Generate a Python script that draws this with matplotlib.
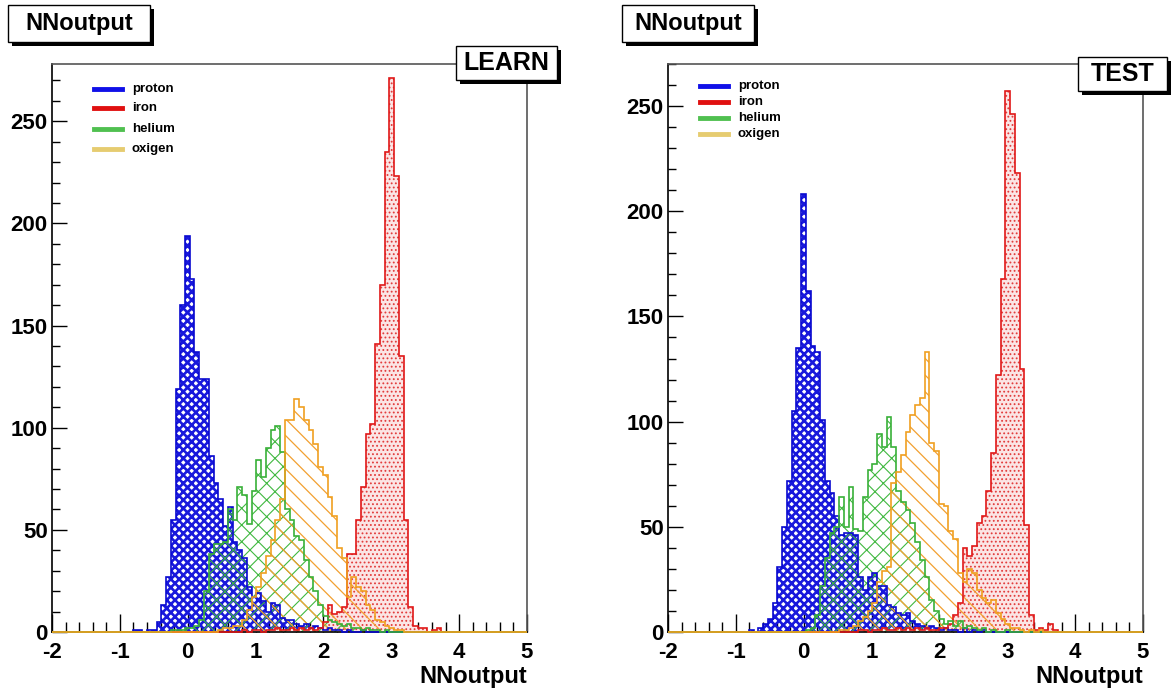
import numpy as np
import matplotlib.pyplot as plt
from matplotlib.patches import Rectangle
from matplotlib.lines import Line2D
from matplotlib.ticker import MultipleLocator

plt.rcParams['font.family'] = ['Liberation Sans', 'DejaVu Sans']
plt.rcParams['font.weight'] = 'bold'
plt.rcParams['axes.unicode_minus'] = False

# histogram binning: 100 bins from -2 to 5
x_lo, x_hi, n_bins = -2.0, 5.0, 100
edges = np.linspace(x_lo, x_hi, n_bins + 1)

labels = ['proton', 'iron', 'helium', 'oxigen']

# LEARN sample: (first bin index, counts)
learn_proton_first = 17
learn_proton = [1, 1, 0, 1, 1, 5, 13, 27, 55, 119, 160, 194, 173, 137, 124, 124, 86, 73, 65, 52,
                61, 44, 40, 36, 22, 17, 19, 15, 10, 14, 13, 7, 6, 6, 4, 3, 4, 2, 3, 2,
                1, 2, 1, 1, 0, 1, 0, 0, 1]
learn_iron_first = 40
learn_iron = [1, 0, 1, 1, 0, 1, 1, 2, 1, 1, 2, 1, 2, 1, 2,
              1, 2, 5, 13, 9, 10, 12, 38, 38, 55, 71, 97, 102, 141, 170, 235, 271, 223, 135, 55,
              12, 3, 2, 2, 0, 1, 2]
learn_helium_first = 25
learn_helium = [1, 1, 1, 2, 2, 3, 6, 20, 38, 43, 43, 44, 60, 55, 71, 67, 53, 69, 84, 76,
                90, 99, 101, 88, 60, 55, 47, 45, 35, 27, 20, 13, 8, 6, 5, 4, 3, 4, 2, 2,
                1, 2, 1, 1, 0, 1]
learn_oxygen_first = 35
learn_oxygen = [1, 2, 2, 3, 3, 6, 11, 17, 22, 29, 37, 45, 55, 65, 104, 104, 114, 110, 104, 99,
                92, 81, 77, 66, 57, 41, 36, 17, 27, 22, 20, 13, 11, 6, 5, 3, 2, 1, 1]

# TEST sample
test_proton_first = 17
test_proton = [1, 0, 2, 4, 6, 14, 31, 50, 72, 105, 135, 208, 162, 136, 133, 101, 72, 66, 55, 46,
               47, 47, 46, 26, 20, 26, 28, 22, 22, 13, 12, 9, 8, 9, 5, 4, 3, 2, 3, 2,
               1, 2, 1, 1, 0, 2, 0, 1, 0, 1]
test_iron_first = 40
test_iron = [1, 1, 0, 1, 1, 2, 1, 1, 2, 1, 2, 1, 2, 1, 2, 1, 1, 2, 2, 4,
             8, 14, 40, 36, 41, 52, 55, 67, 85, 122, 168, 257, 246, 218, 125, 51, 8, 1, 2, 1,
             4, 1]
test_helium_first = 29
test_helium = [1, 2, 8, 22, 35, 47, 50, 64, 50, 69, 49, 48, 64, 77, 80, 94, 88, 102, 88, 67,
               62, 58, 52, 43, 34, 26, 15, 10, 6, 4, 5, 3, 5, 2, 3, 2, 1, 2, 0, 1,
               0, 0, 1]
test_oxygen_first = 36
test_oxygen = [1, 1, 2, 3, 5, 7, 10, 14, 24, 29, 31, 71, 76, 84, 95, 103, 108, 111, 133, 90,
               86, 61, 60, 48, 44, 28, 24, 30, 28, 20, 16, 14, 15, 9, 6, 4, 2, 2, 1, 0,
               1, 0, 1]


def full_counts(first, vals):
    c = np.zeros(n_bins)
    c[first:first + len(vals)] = vals
    return c


# style per species: outline colour, hatch colour, face, hatch, hatch width, legend colour
line_colors = ['#0a0ad0', '#e01818', '#38b038', '#f0a020']
hatch_colors = ['#1818dc', '#e23c3c', '#40b840', '#f2a030']
face_colors = ['none', '#fbe5e5', 'none', 'none']
hatches = ['xxxx', '....', 'xx', '\\\\']
hatch_widths = [1.9, 0.8, 0.8, 0.9]
legend_colors = ['#1010e8', '#e01010', '#50c050', '#e6cc70']

W, H = 1172, 693
fig = plt.figure(figsize=(W / 100, H / 100), dpi=100)


def fx(px):
    return px / W


def fy(py):
    return 1 - py / H


def text_box(x0, y0, x1, y1, text, size):
    sh = 4
    fig.add_artist(Rectangle((fx(x0 + sh), fy(y1 + sh)), (x1 - x0) / W, (y1 - y0) / H,
                             transform=fig.transFigure, facecolor='black', edgecolor='none', zorder=10))
    fig.add_artist(Rectangle((fx(x0), fy(y1)), (x1 - x0) / W, (y1 - y0) / H,
                             transform=fig.transFigure, facecolor='white', edgecolor='black',
                             linewidth=1.0, zorder=11))
    fig.text(fx((x0 + x1) / 2), fy((y0 + y1) / 2), text, ha='center', va='center',
             fontsize=size, fontweight='bold', zorder=12)


panels = [
    dict(left=52, right=527, ymax=278, tag='LEARN', title_box=(8, 5, 150, 42), tag_box=(456, 46, 557, 80),
         legend_x=94, legend_rows=[89, 108, 129, 149],
         data=[(learn_proton_first, learn_proton), (learn_iron_first, learn_iron),
               (learn_helium_first, learn_helium), (learn_oxygen_first, learn_oxygen)]),
    dict(left=668, right=1143, ymax=270, tag='TEST', title_box=(622, 5, 754, 42), tag_box=(1078, 57, 1167, 91),
         legend_x=700, legend_rows=[86, 102, 118, 134],
         data=[(test_proton_first, test_proton), (test_iron_first, test_iron),
               (test_helium_first, test_helium), (test_oxygen_first, test_oxygen)]),
]

top_px, base_px = 64, 632

for p in panels:
    ax = fig.add_axes([fx(p['left']), fy(base_px), (p['right'] - p['left']) / W, (base_px - top_px) / H])
    for i, (first, vals) in enumerate(p['data']):
        counts = full_counts(first, vals)
        z = 2 + i * 0.1
        fill = ax.stairs(counts, edges, fill=True, facecolor=face_colors[i], edgecolor=hatch_colors[i],
                         hatch=hatches[i], linewidth=0, zorder=z)
        if hasattr(fill, 'set_hatch_linewidth'):
            fill.set_hatch_linewidth(hatch_widths[i])
        ax.stairs(counts, edges, color=line_colors[i], linewidth=1.2, zorder=3 + i * 0.1, clip_on=False)

    ax.set_xlim(x_lo, x_hi)
    ax.set_ylim(0, p['ymax'])
    ax.xaxis.set_major_locator(MultipleLocator(1))
    ax.xaxis.set_minor_locator(MultipleLocator(0.2))
    ax.yaxis.set_major_locator(MultipleLocator(50))
    ax.yaxis.set_minor_locator(MultipleLocator(10))
    ax.tick_params(axis='x', which='major', direction='in', length=13, width=1, labelsize=16, pad=7)
    ax.tick_params(axis='x', which='minor', direction='in', length=7, width=1)
    ax.tick_params(axis='y', which='major', direction='in', length=11, width=1, labelsize=16, pad=3)
    ax.tick_params(axis='y', which='minor', direction='in', length=6, width=1)
    for s in ['left', 'bottom']:
        ax.spines[s].set_linewidth(1.2)
    for s in ['top', 'right']:
        ax.spines[s].set_linewidth(1.2)
        ax.spines[s].set_color('#555555')

    fig.text(fx(p['right']), fy(677), 'NNoutput', ha='right', va='center', fontsize=17, fontweight='bold')
    text_box(*p['title_box'], 'NNoutput', 17)
    text_box(*p['tag_box'], p['tag'], 18)

    lx = p['legend_x']
    for lab, col, ry in zip(labels, legend_colors, p['legend_rows']):
        fig.add_artist(Line2D([fx(lx), fx(lx + 28)], [fy(ry), fy(ry)], transform=fig.transFigure,
                              color=col, linewidth=3.5))
        fig.text(fx(lx + 38), fy(ry), lab, ha='left', va='center', fontsize=9.5, fontweight='bold')

fig.savefig('out.png', dpi=100)
